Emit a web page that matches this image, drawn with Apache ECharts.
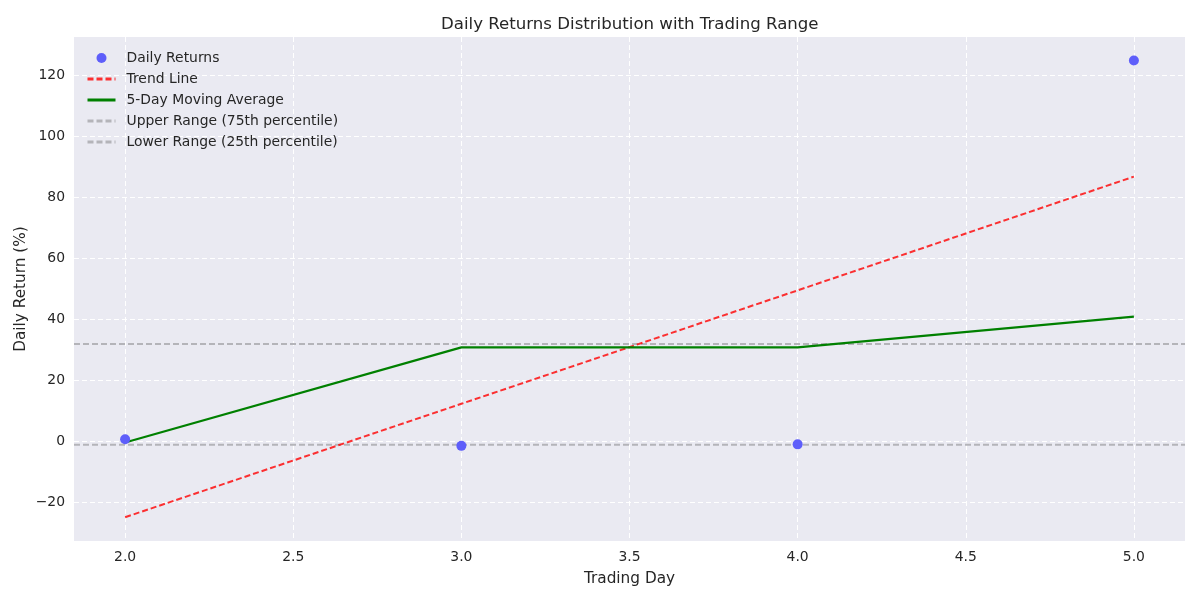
<!DOCTYPE html>
<html>
<head>
<meta charset="utf-8">
<script src="https://cdn.jsdelivr.net/npm/echarts@6/dist/echarts.min.js"></script>
<style>html,body{margin:0;padding:0;background:#fff;}#c{width:1200px;height:600px;}</style>
</head>
<body>
<div id="c"></div>
<script>
const days = [2, 3, 4, 5];
const dailyReturns = [0.6, -1.6, -1.1, 124.8];
const trendLine = [-25.0, 12.2, 49.4, 86.7];
const movingAvg = [-0.5, 30.7, 30.7, 40.8];
const upperRange = 31.8;
const lowerRange = -1.2;
const xTicks = [2.0, 2.5, 3.0, 3.5, 4.0, 4.5, 5.0];
const yTicks = [-20, 0, 20, 40, 60, 80, 100, 120];
const xMin = 1.848, xMax = 5.152, yMin = -32.8, yMax = 132.5;

const font = 'DejaVu Sans';
const textColor = '#262626';
const pair = (xs, ys) => xs.map((x, i) => [x, ys[i]]);
const noSym = {itemStyle: {opacity: 0, borderWidth: 0}};

const chart = echarts.init(document.getElementById('c'), null, {renderer: 'canvas'});
chart.setOption({
  animation: false,
  backgroundColor: '#ffffff',
  textStyle: {fontFamily: font},
  title: {
    text: 'Daily Returns Distribution with Trading Range',
    left: 436, top: 11,
    textStyle: {fontFamily: font, fontSize: 16.6, fontWeight: 'normal', color: textColor}
  },
  grid: {
    left: 74, right: 15, top: 37, bottom: 59,
    outerBoundsMode: 'none',
    show: true, backgroundColor: '#EAEAF2', borderWidth: 0
  },
  legend: {
    orient: 'vertical', left: 81, top: 46,
    itemWidth: 28, itemHeight: 10, itemGap: 7,
    lineStyle: {width: 3},
    textStyle: {fontFamily: font, fontSize: 13.9, color: textColor, padding: [0, 0, 0, 6]},
    data: [
      {name: 'Daily Returns', icon: 'circle'},
      Object.assign({name: 'Trend Line'}, noSym),
      Object.assign({name: '5-Day Moving Average'}, noSym),
      Object.assign({name: 'Upper Range (75th percentile)'}, noSym),
      Object.assign({name: 'Lower Range (25th percentile)'}, noSym)
    ]
  },
  xAxis: {
    type: 'value', min: xMin, max: xMax,
    name: 'Trading Day', nameLocation: 'middle', nameGap: 31,
    nameTextStyle: {fontFamily: font, fontSize: 15.3, color: textColor},
    axisLine: {show: false},
    axisTick: {show: false, customValues: xTicks},
    axisLabel: {customValues: xTicks, fontFamily: font, fontSize: 13.9, color: textColor, margin: 9,
      formatter: v => v.toFixed(1)},
    splitLine: {show: true, lineStyle: {color: '#ffffff', type: [5, 3], width: 1}}
  },
  yAxis: {
    type: 'value', min: yMin, max: yMax,
    name: 'Daily Return (%)', nameLocation: 'middle', nameGap: 45, nameMoveOverlap: false,
    nameTextStyle: {fontFamily: font, fontSize: 15.3, color: textColor},
    axisLine: {show: false},
    axisTick: {show: false, customValues: yTicks},
    axisLabel: {customValues: yTicks, fontFamily: font, fontSize: 13.9, color: textColor, margin: 9,
      formatter: v => (v < 0 ? '\u2212' + Math.abs(v) : String(v))},
    splitLine: {show: true, lineStyle: {color: '#ffffff', type: [5, 3], width: 1}}
  },
  series: [
    {
      name: 'Upper Range (75th percentile)', type: 'line',
      data: [[xMin, upperRange], [xMax, upperRange]],
      showSymbol: false, symbol: 'none', z: 2,
      lineStyle: {color: '#b4b4b9', width: 2, type: [6, 3]},
      itemStyle: {color: '#b4b4b9'}
    },
    {
      name: 'Lower Range (25th percentile)', type: 'line',
      data: [[xMin, lowerRange], [xMax, lowerRange]],
      showSymbol: false, symbol: 'none', z: 2,
      lineStyle: {color: '#b4b4b9', width: 2, type: [6, 3]},
      itemStyle: {color: '#b4b4b9'}
    },
    {
      name: 'Trend Line', type: 'line', data: pair(days, trendLine),
      showSymbol: false, symbol: 'none', z: 3,
      lineStyle: {color: 'rgba(255,0,0,0.8)', width: 2, type: [6, 3]},
      itemStyle: {color: 'rgba(255,0,0,0.8)'}
    },
    {
      name: '5-Day Moving Average', type: 'line', data: pair(days, movingAvg),
      showSymbol: false, symbol: 'none', z: 4,
      lineStyle: {color: '#008000', width: 2.2},
      itemStyle: {color: '#008000'}
    },
    {
      name: 'Daily Returns', type: 'scatter', data: pair(days, dailyReturns),
      symbolSize: 10, z: 5,
      itemStyle: {color: '#5e5efa', opacity: 1}
    }
  ]
});
</script>
</body>
</html>
